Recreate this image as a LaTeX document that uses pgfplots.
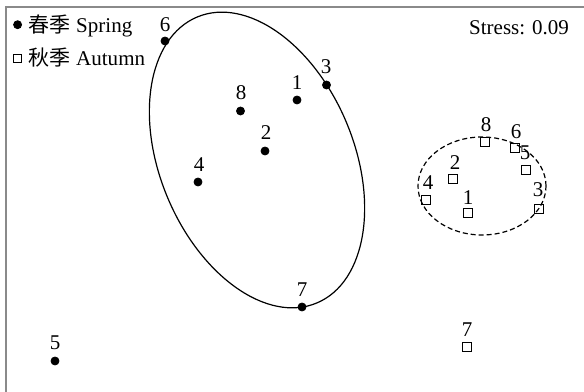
\documentclass[border=0pt]{standalone}
\usepackage{fontspec}
\setmainfont{Liberation Serif}
\newfontfamily\cjk{Noto Sans CJK SC}
\usepackage{pgfplots}
\pgfplotsset{compat=1.18}
\definecolor{framegray}{HTML}{8A8A8A}

\begin{document}
\begin{tikzpicture}
\begin{axis}[
  x=0.5bp,y=0.5bp,
  xmin=0,xmax=584,ymin=0,ymax=392,
  enlargelimits=false,
  hide axis,clip=false,
  font=\fontsize{10.5bp}{12bp}\selectfont,
  legend style={at={(axis cs:13,380)},anchor=north west,draw=none,fill=none,
    inner sep=0pt,row sep=4.5bp,
    nodes={inner sep=1bp,anchor=west},
    font=\fontsize{10.5bp}{12bp}\selectfont},
  legend cell align=left,
  legend image code/.code={\draw[#1] plot coordinates {(2.5bp,0bp)}; \path (7bp,0bp);},
]
% frame (only top and left visible)
\draw[framegray,line width=0.8bp] (axis cs:6,0) -- (axis cs:6,385) -- (axis cs:584,385);
\coordinate (ll) at (axis cs:0,0);
\coordinate (ur) at (axis cs:584,392);

% spring
\addplot[only marks,mark=*,mark size=2bp,black] coordinates {
 (297,292) (265,241) (326.5,307) (198,210) (55,31) (165,351) (302,85) (240.5,281)};
\addlegendentry{{\cjk 春季} Spring}
% autumn
\addplot[only marks,mark=square,mark size=2.1bp,black,mark options={line width=0.6bp}] coordinates {
 (468,179) (453,213) (539,183) (426,192) (526,222) (515,244) (467,45) (485,250)};
\addlegendentry{{\cjk 秋季} Autumn}

% spring labels
\node at (axis cs:297,309) {1};
\node at (axis cs:266,259) {2};
\node at (axis cs:326,325) {3};
\node at (axis cs:199,227) {4};
\node at (axis cs:55,49) {5};
\node at (axis cs:165,367) {6};
\node at (axis cs:302,102) {7};
\node at (axis cs:241,299) {8};
% autumn labels
\node at (axis cs:468,194) {1};
\node at (axis cs:455,229) {2};
\node at (axis cs:538,202) {3};
\node at (axis cs:428,209) {4};
\node at (axis cs:525,239) {5};
\node at (axis cs:516,260) {6};
\node at (axis cs:467,62) {7};
\node at (axis cs:486,267) {8};

% group ellipses
\draw[black,line width=0.6bp] (axis cs:257,232) ellipse [x radius=97,y radius=155,rotate=22.7];
\draw[black,line width=0.6bp,dash pattern=on 2.5bp off 1.5bp] (axis cs:482,206) ellipse [x radius=64,y radius=49];

\node[anchor=base east] at (axis cs:576,357) {Stress: 0.09};
\end{axis}
\pgfresetboundingbox
\useasboundingbox (ll) rectangle (ur);
\end{tikzpicture}
\end{document}
